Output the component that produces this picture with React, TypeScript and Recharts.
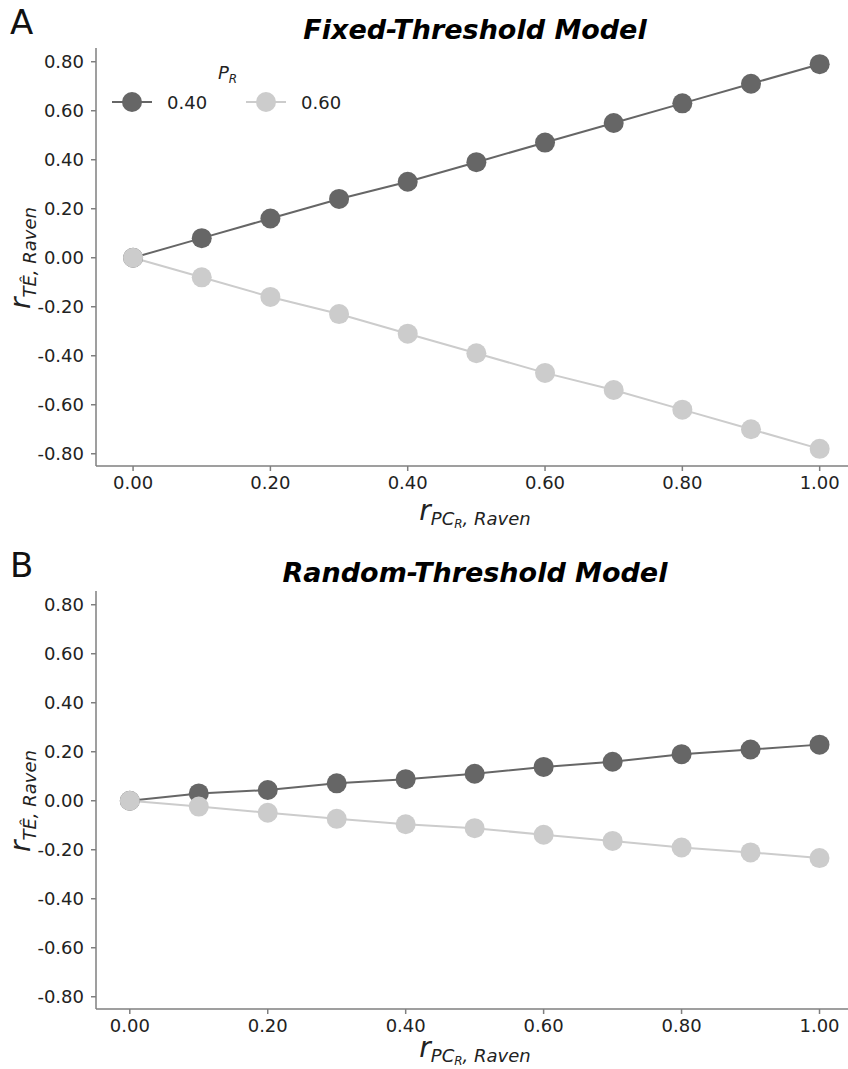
import React from "react";
import { LineChart, Line, XAxis, YAxis, Legend } from "recharts";

// Correlation between PC_R and Raven (x), for two values of P_R
const rValues = [0, 0.1, 0.2, 0.3, 0.4, 0.5, 0.6, 0.7, 0.8, 0.9, 1.0];

// Fixed-threshold model
const fixedP040 = [0, 0.08, 0.16, 0.24, 0.31, 0.39, 0.47, 0.55, 0.63, 0.71, 0.79];
const fixedP060 = [0, -0.08, -0.16, -0.23, -0.31, -0.39, -0.47, -0.54, -0.62, -0.7, -0.78];

// Random-threshold model
const randomP040 = [0, 0.03, 0.044, 0.071, 0.088, 0.11, 0.138, 0.159, 0.19, 0.209, 0.229];
const randomP060 = [0, -0.024, -0.049, -0.074, -0.096, -0.112, -0.139, -0.164, -0.191, -0.211, -0.234];

const xTicks = [0, 0.2, 0.4, 0.6, 0.8, 1.0];
const yTicks = [-0.8, -0.6, -0.4, -0.2, 0, 0.2, 0.4, 0.6, 0.8];
const seriesNames = ["0.40", "0.60"];

const DARK = "#666666";
const LIGHT = "#cccccc";
const AXIS = "#7f7f7f";
const FONT = "'DejaVu Sans', sans-serif";

const CHART_W = 860;
const CHART_H = 540;
const LEGEND_H = 56;

function buildRows(a: number[], b: number[]) {
  return rValues.map((x, i) => ({ x, p40: a[i], p60: b[i] }));
}

function LegendBox(props: any) {
  const payload = props.payload || [];
  return (
    <div style={{ position: "relative", width: 260, height: LEGEND_H, fontFamily: FONT }}>
      <div style={{ position: "absolute", left: 113, top: 0, fontSize: 18, fontStyle: "italic", color: "#222" }}>
        P<sub style={{ fontSize: 12, verticalAlign: "-4px" }}>R</sub>
      </div>
      {payload.map((item: any, i: number) => (
        <div
          key={i}
          style={{ position: "absolute", left: 5 + i * 134, top: 28, display: "flex", alignItems: "center" }}
        >
          <svg width={44} height={24}>
            <line x1={2} y1={12} x2={42} y2={12} stroke={item.color} strokeWidth={2} />
            <circle cx={22} cy={12} r={10} fill={item.color} />
          </svg>
          <span style={{ marginLeft: 13, fontSize: 18, color: "#222" }}>{item.value}</span>
        </div>
      ))}
    </div>
  );
}

function Panel(props: {
  top: number;
  letter: string;
  title: string;
  a: number[];
  b: number[];
  xDomain: [number, number];
  showLegend: boolean;
  xLabelTop: number;
}) {
  const rows = buildRows(props.a, props.b);
  const t = props.top;
  // the legend reserves its own height below the plot, so the chart grows by it
  const h = props.showLegend ? CHART_H + LEGEND_H : CHART_H;
  return (
    <>
      <div style={{ position: "absolute", left: 10, top: t + 2, fontSize: 34, fontFamily: FONT, color: "#111" }}>
        {props.letter}
      </div>
      <div
        style={{
          position: "absolute",
          left: 96,
          width: 758,
          top: t + 14,
          textAlign: "center",
          fontSize: 27,
          fontWeight: "bold",
          fontStyle: "italic",
          fontFamily: FONT,
          color: "#000",
        }}
      >
        {props.title}
      </div>
      <div style={{ position: "absolute", left: 0, top: t }}>
        <LineChart width={CHART_W} height={h} data={rows} margin={{ top: 48, right: 6, bottom: 44, left: 0 }}>
          <XAxis
            dataKey="x"
            type="number"
            domain={props.xDomain}
            ticks={xTicks}
            allowDataOverflow
            tickFormatter={(v: number) => v.toFixed(2)}
            stroke={AXIS}
            strokeWidth={1.5}
            tickSize={5}
            tickMargin={5}
            height={30}
            tick={{ fill: "#222", fontSize: 18, fontFamily: FONT }}
          />
          <YAxis
            type="number"
            domain={[-0.85, 0.856]}
            ticks={yTicks}
            allowDataOverflow
            tickFormatter={(v: number) => v.toFixed(2)}
            stroke={AXIS}
            strokeWidth={1.5}
            tickSize={5}
            tickMargin={7}
            width={96}
            tick={{ fill: "#222", fontSize: 18, fontFamily: FONT }}
          />
          {props.showLegend && (
            <Legend
              content={<LegendBox />}
              wrapperStyle={{ position: "absolute", left: 105, top: 62, width: 260 }}
            />
          )}
          <Line
            dataKey="p40"
            name={seriesNames[0]}
            stroke={DARK}
            strokeWidth={2}
            dot={{ r: 10, fill: DARK, stroke: DARK, strokeWidth: 0 }}
            isAnimationActive={false}
          />
          <Line
            dataKey="p60"
            name={seriesNames[1]}
            stroke={LIGHT}
            strokeWidth={2}
            dot={{ r: 10, fill: LIGHT, stroke: LIGHT, strokeWidth: 0 }}
            isAnimationActive={false}
          />
        </LineChart>
      </div>
      {/* x-axis title */}
      <div
        style={{
          position: "absolute",
          left: 96,
          width: 758,
          top: t + props.xLabelTop,
          textAlign: "center",
          fontFamily: FONT,
          fontStyle: "italic",
          color: "#222",
          whiteSpace: "nowrap",
          lineHeight: "30px",
        }}
      >
        <span style={{ fontSize: 28 }}>r</span>
        <span style={{ fontSize: 18, position: "relative", top: 5 }}>
          PC<span style={{ fontSize: 12, position: "relative", top: 3 }}>R</span>, Raven
        </span>
      </div>
      {/* y-axis title */}
      <div
        style={{
          position: "absolute",
          left: 22 - 100,
          width: 200,
          top: t + 258 - 18,
          height: 36,
          textAlign: "center",
          transform: "rotate(-90deg)",
          fontFamily: FONT,
          fontStyle: "italic",
          color: "#222",
          whiteSpace: "nowrap",
        }}
      >
        <span style={{ fontSize: 28 }}>r</span>
        <span style={{ fontSize: 18, position: "relative", top: 6 }}>T{"\u00CA"}, Raven</span>
      </div>
    </>
  );
}

export default function App() {
  return (
    <div
      style={{
        position: "absolute",
        left: 0,
        top: 0,
        width: 848,
        height: 1069,
        overflow: "hidden",
        background: "#fff",
        fontFamily: FONT,
      }}
    >
      <Panel
        top={0}
        letter="A"
        title="Fixed-Threshold Model"
        a={fixedP040}
        b={fixedP060}
        xDomain={[-0.054, 1.05]}
        showLegend={true}
        xLabelTop={496}
      />
      <Panel
        top={543}
        letter="B"
        title="Random-Threshold Model"
        a={randomP040}
        b={randomP060}
        xDomain={[-0.049, 1.05]}
        showLegend={false}
        xLabelTop={490}
      />
    </div>
  );
}
